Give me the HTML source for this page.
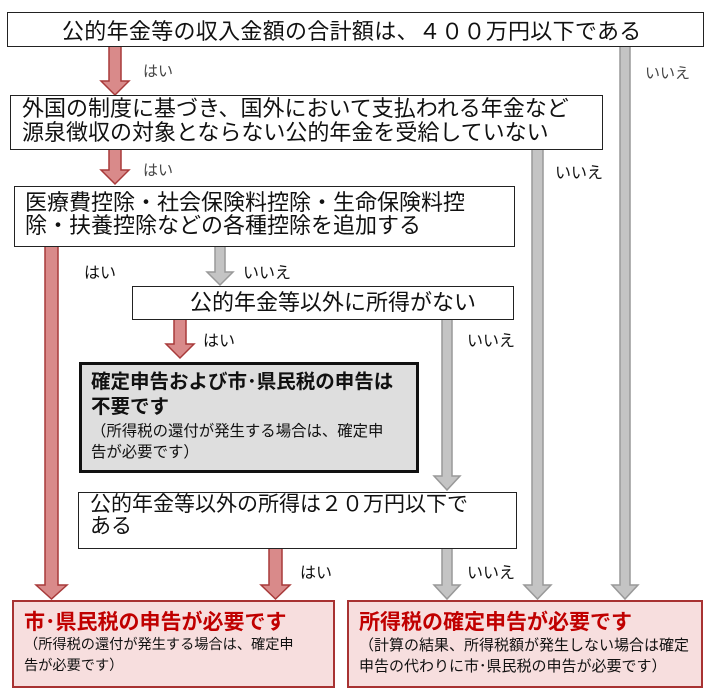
<!DOCTYPE html>
<html><head><meta charset="utf-8"><style>
body{margin:0;width:710px;height:698px;background:#fff;position:relative;overflow:hidden;font-family:"Liberation Sans","Noto Sans CJK JP",sans-serif;color:#111}
.b{position:absolute;box-sizing:border-box;border:1.5px solid #222;background:#fff}
.t{position:absolute;white-space:nowrap}
svg{position:absolute;left:0;top:0}
</style></head><body>
<svg width="710" height="698">
<g fill="#d98a8a" stroke="#a83a3a" stroke-width="1.5">
<path d="M109,46 H121 V81 H129 L115,95 L101,81 H109 Z"/>
<path d="M109,148 H121 V170 H129 L115,184 L101,170 H109 Z"/>
<path d="M45,246 H58 V585 H67 L51.5,599 L36,585 H45 Z"/>
<path d="M174,319 H186 V344 H194 L180,358 L166,344 H174 Z"/>
<path d="M269,548 H282 V585 H290 L275.5,599 L261,585 H269 Z"/>
</g>
<g fill="#c4c4c4" stroke="#999" stroke-width="1.5">
<path d="M620,46 H630 V585 H638 L625,599 L612,585 H620 Z"/>
<path d="M532,148 H543 V585 H551 L537.5,599 L524,585 H532 Z"/>
<path d="M215,246 H225 V272 H233 L220,285 L207,272 H215 Z"/>
<path d="M442,319 H452 V476 H460 L447,490 L434,476 H442 Z"/>
<path d="M442,548 H452 V585 H460 L447,599 L434,585 H442 Z"/>
</g>
</svg>
<div class="b" style="left:7px;top:12px;width:697px;height:35px"></div>
<div class="t" style="left:62px;top:14px;font-size:22px;letter-spacing:0.3px">公的年金等の収入金額の合計額は、４００万円以下である</div>
<div class="b" style="left:10px;top:95px;width:593px;height:55px"></div>
<div class="t" style="left:22px;top:97px;font-size:22px;line-height:24px">外国の制度に基づき、国外において支払われる年金など<br>源泉徴収の対象とならない公的年金を受給していない</div>
<div class="b" style="left:14px;top:186px;width:501px;height:61px"></div>
<div class="t" style="left:25px;top:191px;font-size:22px;line-height:23px">医療費控除・社会保険料控除・生命保険料控<br>除・扶養控除などの各種控除を追加する</div>
<div class="b" style="left:132px;top:286px;width:382px;height:34px"></div>
<div class="t" style="left:190px;top:291px;font-size:22px;line-height:24px">公的年金等以外に所得がない</div>
<div class="b" style="left:79px;top:362px;width:340px;height:111px;border:3px solid #111;background:#dedede"></div>
<div class="t" style="left:91px;top:370px;font-size:19.5px;line-height:25px;font-weight:bold">確定申告および市･県民税の申告は<br>不要です</div>
<div class="t" style="left:91px;top:421px;font-size:15.4px;line-height:21px">（所得税の還付が発生する場合は、確定申<br>告が必要です）</div>
<div class="b" style="left:78px;top:492px;width:439px;height:57px"></div>
<div class="t" style="left:90px;top:494px;font-size:21px;line-height:22px">公的年金等以外の所得は２０万円以下で<br>ある</div>
<div class="b" style="left:12px;top:600px;width:323px;height:88px;border:2.5px solid #a83232;background:#f7dede"></div>
<div class="t" style="left:24px;top:606px;font-size:21px;font-weight:bold;color:#c00000">市･県民税の申告が必要です</div>
<div class="t" style="left:24px;top:635px;font-size:14.2px;line-height:21px">（所得税の還付が発生する場合は、確定申<br>告が必要です）</div>
<div class="b" style="left:347px;top:600px;width:356px;height:88px;border:2.5px solid #a83232;background:#f7dede"></div>
<div class="t" style="left:359px;top:606px;font-size:21px;font-weight:bold;color:#c00000">所得税の確定申告が必要です</div>
<div class="t" style="left:359px;top:635px;font-size:15px;line-height:21px">（計算の結果、所得税額が発生しない場合は確定<br>申告の代わりに市･県民税の申告が必要です）</div>
<div class="t" style="left:143px;top:60px;font-size:15px;color:#444">はい</div>
<div class="t" style="left:645px;top:62px;font-size:15px;color:#444">いいえ</div>
<div class="t" style="left:143px;top:159px;font-size:15px;color:#444">はい</div>
<div class="t" style="left:555px;top:159px;font-size:16px">いいえ</div>
<div class="t" style="left:84px;top:259px;font-size:16px">はい</div>
<div class="t" style="left:243px;top:259px;font-size:16px">いいえ</div>
<div class="t" style="left:203px;top:327px;font-size:16px">はい</div>
<div class="t" style="left:467px;top:327px;font-size:16px">いいえ</div>
<div class="t" style="left:300px;top:559px;font-size:16px">はい</div>
<div class="t" style="left:467px;top:559px;font-size:16px">いいえ</div>
</body></html>
